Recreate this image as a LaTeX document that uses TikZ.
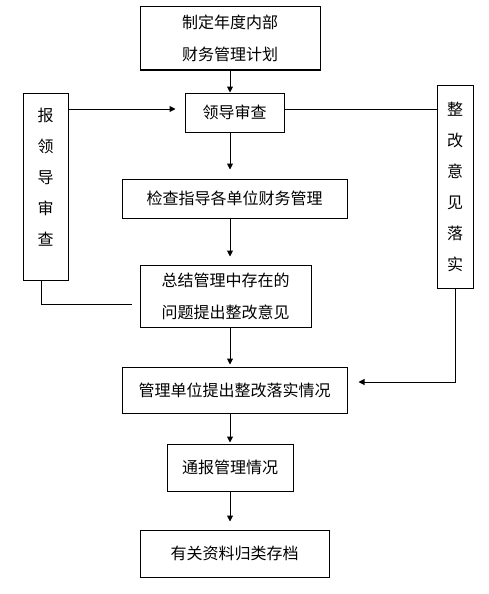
\documentclass[tikz,border=0pt]{standalone}
\usepackage{fontspec}
\setmainfont{Noto Sans CJK SC}
\usetikzlibrary{arrows.meta,positioning}

\begin{document}
\begin{tikzpicture}[x=1pt, y=-1pt,
          line width=1pt,
          box/.style={draw, line width=1pt, inner sep=0pt, align=center,
                      font=\fontsize{16}{32}\selectfont},
          sidetext/.style={inner sep=0pt, align=center,
                      font=\fontsize{16}{31}\selectfont},
          flow/.style={-{Triangle[length=6pt,width=6pt]}}]
        \useasboundingbox (0,0) rectangle (488,594);
        \coordinate (axis) at (230,0);
        \coordinate (toprow) at (0,109);
        \coordinate (backrow) at (0,304);
        \coordinate (fixrow) at (0,382);
        % main column
        \node[box, minimum width=180pt, minimum height=63pt] (plan) at (230,38.5) {%
          制定年度内部\\财务管理计划};
        \node[box, minimum width=99pt, minimum height=39pt] (review) at (234.5,112.5) {%
          领导审查};
        \node[box, minimum width=225pt, minimum height=39pt] (check) at (234.5,198.5) {%
          检查指导各单位财务管理};
        \node[box, minimum width=171pt, minimum height=62pt] (sum) at (225.5,296) {%
          总结管理中存在的\\问题提出整改意见};
        \node[box, minimum width=225pt, minimum height=46pt] (feedback) at (234.5,390) {%
          管理单位提出整改落实情况};
        \node[box, minimum width=126pt, minimum height=47pt] (notify) at (230,467.5) {%
          通报管理情况};
        \node[box, minimum width=189pt, minimum height=47pt] (archive) at (234.5,553.5) {%
          有关资料归类存档};
        % side boxes
        \node[box, minimum width=45pt, minimum height=187pt] (report) at (45.5,186.5) {};
        \node[sidetext] (reporttext) at (45.5,177.5) {报\\领\\导\\审\\查};
        \node[box, sidetext, draw, minimum width=36pt, minimum height=203pt] (fix) at (455,186.5) {%
          整\\改\\意\\见\\落\\实};
        % connectors
        \draw[flow] (plan.south -| axis) -- (review.north -| axis);
        \draw[flow, shorten >=9pt] (review.south -| axis) -- (check.north -| axis);
        \draw[flow, shorten >=8pt] (check.south -| axis) -- (sum.north -| axis);
        \draw[flow, shorten >=2pt] (sum.south -| axis) -- (feedback.north -| axis);
        \draw[flow, shorten >=1pt] (feedback.south -| axis) -- (notify.north -| axis);
        \draw[flow, shorten >=8pt] (notify.south -| axis) -- (archive.north -| axis);
        \draw[flow, shorten >=9pt] (report.east |- toprow) -- (review.west |- toprow);
        \draw (review.east |- toprow) -- (fix.west |- toprow);
        \draw[shorten >=8pt] ([xshift=-4.5pt]report.south) |- (sum.west |- backrow);
        \draw[flow, shorten >=11pt] (fix.south) |- (feedback.east |- fixrow);
      \end{tikzpicture}
\end{document}
